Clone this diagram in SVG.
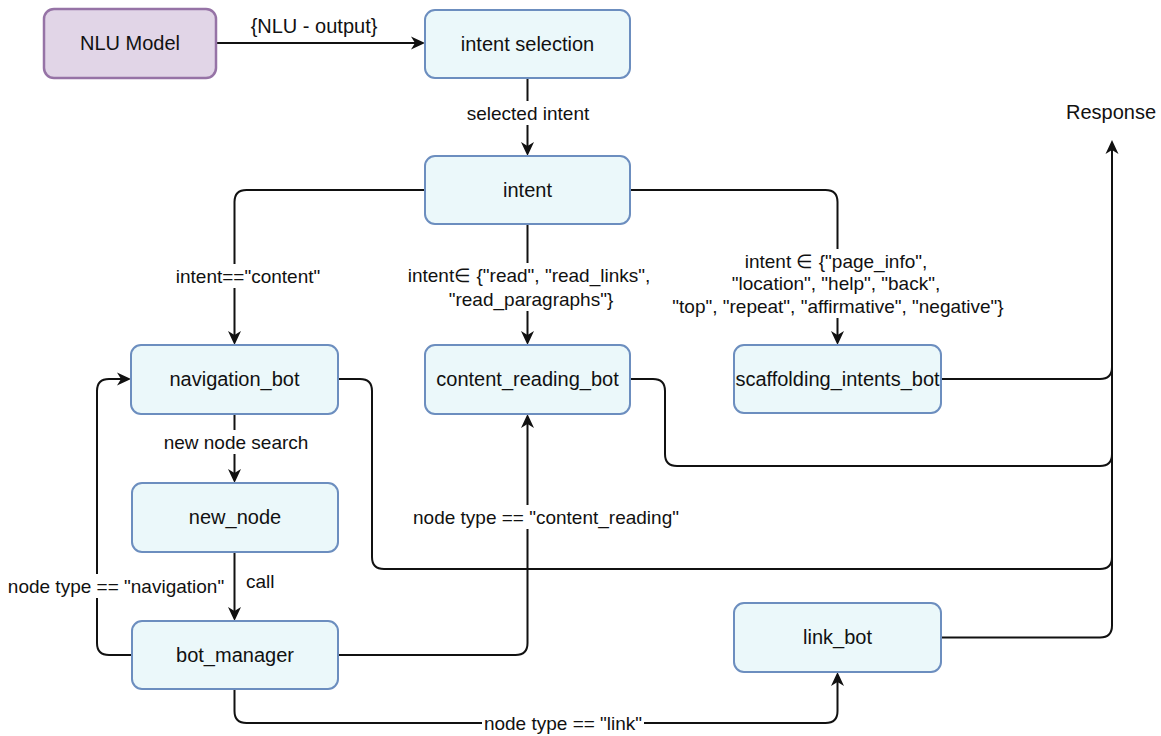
<svg xmlns="http://www.w3.org/2000/svg" width="1161" height="736" viewBox="0 0 1161 736">
  <style>
    .box { fill: #ebf8fa; stroke: #6c8ebf; stroke-width: 2; }
    .model { fill: #e1d5e7; stroke: #9673a6; stroke-width: 2.5; }
    .lbl { font-family: "Liberation Sans", Arial, sans-serif; font-size: 20px; fill: #111; text-anchor: middle; }
    .elbl { font-family: "Liberation Sans", Arial, sans-serif; font-size: 19px; fill: #111; text-anchor: middle; }
    .edge { fill: none; stroke: #111; stroke-width: 2; }
    .bg { fill: #fff; }
  </style>
  <defs>
    <marker id="arrow" viewBox="0 -8 16 16" refX="11" refY="0" markerWidth="16" markerHeight="16" orient="auto" markerUnits="userSpaceOnUse">
      <path d="M0,-6.5 L14,0 L0,6.5 L4,0 Z" fill="#111"/>
    </marker>
  </defs>

  <!-- connectors -->
  <g id="connectors">
    <path class="edge" d="M216,43 H422" marker-end="url(#arrow)"/>
    <path class="edge" d="M527.5,78 V153" marker-end="url(#arrow)"/>
    <path class="edge" d="M425,190 H246.5 Q234.5,190 234.5,202 V342" marker-end="url(#arrow)"/>
    <path class="edge" d="M527.5,224 V342" marker-end="url(#arrow)"/>
    <path class="edge" d="M630,190 H825.5 Q837.5,190 837.5,202 V342" marker-end="url(#arrow)"/>
    <path class="edge" d="M234.5,414 V480" marker-end="url(#arrow)"/>
    <path class="edge" d="M234.5,552 V618" marker-end="url(#arrow)"/>
    <path class="edge" d="M132,655 H109 Q97,655 97,643 V391 Q97,379 109,379 H128" marker-end="url(#arrow)"/>
    <path class="edge" d="M338,655 H515.5 Q527.5,655 527.5,643 V417" marker-end="url(#arrow)"/>
    <path class="edge" d="M234.5,689 V711 Q234.5,723 246.5,723 H825.5 Q837.5,723 837.5,711 V675" marker-end="url(#arrow)"/>
    <path class="edge" d="M338,379 H360 Q372,379 372,391 V557 Q372,569 384,569 H1100 Q1112,569 1112,557"/>
    <path class="edge" d="M630,379 H653 Q665,379 665,391 V454 Q665,466 677,466 H1100 Q1112,466 1112,454"/>
    <path class="edge" d="M941,379 H1100 Q1112,379 1112,367"/>
    <path class="edge" d="M941,637.5 H1100 Q1112,637.5 1112,625.5 V143" marker-end="url(#arrow)"/>

    <!-- edge labels -->
    <text class="lbl" x="314" y="33">{NLU - output}</text>

    <rect class="bg" x="466" y="101" width="125" height="24"/>
    <text class="elbl" x="528" y="120">selected intent</text>

    <rect class="bg" x="175" y="264" width="147" height="24"/>
    <text class="elbl" x="248" y="283">intent=="content"</text>

    <rect class="bg" x="407" y="263" width="244" height="48"/>
    <text class="elbl" x="529" y="282">intent∈ {"read", "read_links",</text>
    <text class="elbl" x="531" y="306">"read_paragraphs"}</text>

    <rect class="bg" x="672" y="249" width="333" height="69"/>
    <text class="elbl" x="836" y="268">intent ∈ {"page_info",</text>
    <text class="elbl" x="836" y="290">"location", "help", "back",</text>
    <text class="elbl" x="838" y="313">"top", "repeat", "affirmative", "negative"}</text>

    <rect class="bg" x="162" y="430" width="148" height="24"/>
    <text class="elbl" x="236" y="449">new node search</text>

    <text class="elbl" x="246" y="588" style="text-anchor:start">call</text>

    <rect class="bg" x="6" y="574" width="220" height="24"/>
    <text class="elbl" x="116" y="593">node type == "navigation"</text>

    <rect class="bg" x="412" y="505" width="268" height="24"/>
    <text class="elbl" x="546" y="524">node type == "content_reading"</text>

    <rect class="bg" x="482" y="711" width="162" height="24"/>
    <text class="elbl" x="563" y="730">node type == "link"</text>
  </g>

  <!-- nodes -->
  <g id="nlu_model">
    <rect class="model" x="44" y="9" width="172" height="69" rx="10"/>
    <text class="lbl" x="130" y="50">NLU Model</text>
  </g>
  <g id="intent_selection">
    <rect class="box" x="425" y="10" width="205" height="68" rx="10"/>
    <text class="lbl" x="527.5" y="51">intent selection</text>
  </g>
  <g id="intent">
    <rect class="box" x="425" y="156" width="205" height="68" rx="10"/>
    <text class="lbl" x="527.5" y="197">intent</text>
  </g>
  <g id="navigation_bot">
    <rect class="box" x="131" y="345" width="207" height="69" rx="10"/>
    <text class="lbl" x="234.5" y="386">navigation_bot</text>
  </g>
  <g id="content_reading_bot">
    <rect class="box" x="425" y="345" width="205" height="69" rx="10"/>
    <text class="lbl" x="527.5" y="386">content_reading_bot</text>
  </g>
  <g id="scaffolding_intents_bot">
    <rect class="box" x="734" y="345" width="207" height="68" rx="10"/>
    <text class="lbl" x="837.5" y="386">scaffolding_intents_bot</text>
  </g>
  <g id="new_node">
    <rect class="box" x="132" y="483" width="206" height="69" rx="10"/>
    <text class="lbl" x="235" y="524">new_node</text>
  </g>
  <g id="bot_manager">
    <rect class="box" x="132" y="621" width="206" height="68" rx="10"/>
    <text class="lbl" x="235" y="662">bot_manager</text>
  </g>
  <g id="link_bot">
    <rect class="box" x="734" y="603" width="207" height="69" rx="10"/>
    <text class="lbl" x="837.5" y="644">link_bot</text>
  </g>
  <g id="response">
    <text class="lbl" x="1111" y="119">Response</text>
  </g>
</svg>
